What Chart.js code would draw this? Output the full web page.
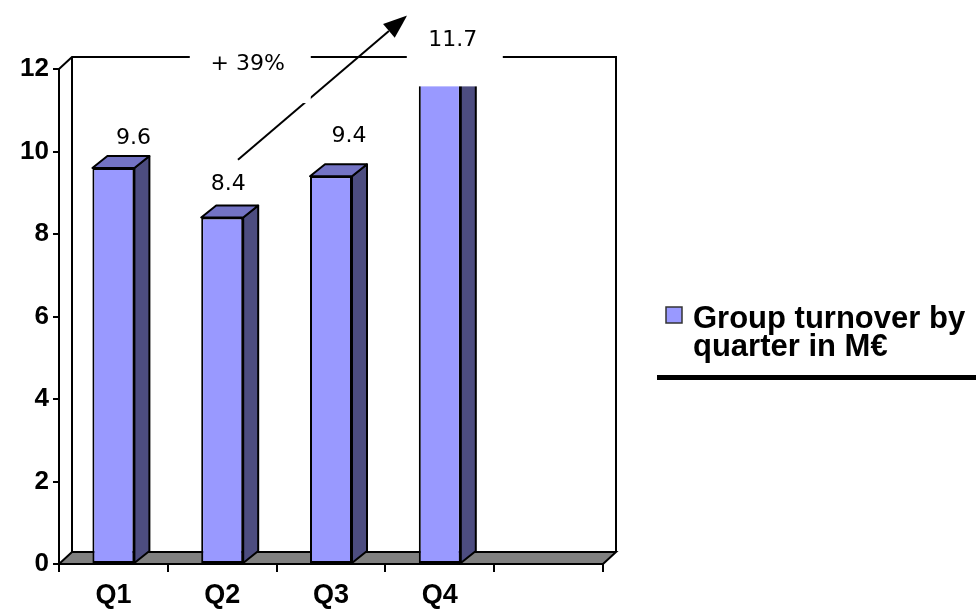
<!DOCTYPE html>
<html>
<head>
<meta charset="utf-8">
<title>Group turnover by quarter</title>
<script src="https://cdn.jsdelivr.net/npm/chart.js@4/dist/chart.umd.min.js"></script>
<style>
  html, body { margin: 0; padding: 0; background: #ffffff; }
  #wrap { width: 976px; height: 610px; position: relative; }
</style>
</head>
<body>
<div id="wrap"><canvas id="chart" width="976" height="610"></canvas></div>
<script>
// ---- data ----
const categories = ['Q1', 'Q2', 'Q3', 'Q4', ''];
const turnover = [9.6, 8.4, 9.4, 11.7, null];
const yTicks = [0, 2, 4, 6, 8, 10, 12];
const seriesName = 'Group turnover by quarter in M€';

// ---- styling ----
const FRONT = '#9999FF';
const SIDE = '#4D4D80';
const TOP = '#7373C4';
const FLOOR = '#808080';
const WALL_DX = 13, WALL_DY = 12;   // depth of the wall / floor box
const BAR_DX = 15, BAR_DY = 12;     // depth of each column
const AXIS_FAMILY = '"Liberation Sans", Arial, sans-serif';
const LABEL_FONT = '22px "DejaVu Sans", Verdana, sans-serif';
const LEGEND_FONT = 'bold 31px "Liberation Sans", Arial, sans-serif';
// where each value label sits relative to the top of its column
const labelNudge = [[20, -30], [6, -33], [18, -40], [13, -41]];

// growth from the weakest quarter to the last one
const growthPct = Math.round((turnover[3] / turnover[1] - 1) * 100);

// walls, floor and the side/top faces of each column
const box3d = {
  id: 'box3d',
  beforeDatasetsDraw(chart) {
    const { ctx, chartArea: a } = chart;
    const y0 = chart.scales.y.getPixelForValue(0);
    const yT = chart.scales.y.getPixelForValue(yTicks[yTicks.length - 1]);
    ctx.save();
    ctx.lineWidth = 2;
    ctx.strokeStyle = '#000';
    ctx.lineJoin = 'miter';
    ctx.beginPath();
    ctx.moveTo(a.left, yT);
    ctx.lineTo(a.left + WALL_DX, yT - WALL_DY);
    ctx.lineTo(a.right + WALL_DX, yT - WALL_DY);
    ctx.lineTo(a.right + WALL_DX, y0 - WALL_DY);
    ctx.moveTo(a.left + WALL_DX, yT - WALL_DY);
    ctx.lineTo(a.left + WALL_DX, y0 - WALL_DY);
    ctx.stroke();
    ctx.beginPath();
    ctx.moveTo(a.left, y0);
    ctx.lineTo(a.right, y0);
    ctx.lineTo(a.right + WALL_DX, y0 - WALL_DY);
    ctx.lineTo(a.left + WALL_DX, y0 - WALL_DY);
    ctx.closePath();
    ctx.fillStyle = FLOOR;
    ctx.fill();
    ctx.stroke();
    ctx.restore();
  },
  afterDatasetsDraw(chart) {
    const { ctx } = chart;
    const meta = chart.getDatasetMeta(0);
    ctx.save();
    ctx.lineWidth = 2;
    ctx.strokeStyle = '#000';
    ctx.lineJoin = 'round';
    meta.data.forEach((bar, i) => {
      if (turnover[i] == null) return;
      const { x, y, base, width } = bar.getProps(['x', 'y', 'base', 'width'], true);
      const l = x - width / 2, r = x + width / 2;
      ctx.beginPath();
      ctx.moveTo(r, y);
      ctx.lineTo(r + BAR_DX, y - BAR_DY);
      ctx.lineTo(r + BAR_DX, base - BAR_DY);
      ctx.lineTo(r, base);
      ctx.closePath();
      ctx.fillStyle = SIDE;
      ctx.fill();
      ctx.stroke();
      ctx.beginPath();
      ctx.moveTo(l, y);
      ctx.lineTo(r, y);
      ctx.lineTo(r + BAR_DX, y - BAR_DY);
      ctx.lineTo(l + BAR_DX, y - BAR_DY);
      ctx.closePath();
      ctx.fillStyle = TOP;
      ctx.fill();
      ctx.stroke();
    });
    ctx.restore();
  }
};

// growth arrow, value labels and the legend
const notes = {
  id: 'notes',
  afterDraw(chart) {
    const { ctx } = chart;
    const xs = chart.scales.x, ys = chart.scales.y;
    const P = (i, v) => [xs.getPixelForValue(i), ys.getPixelForValue(v)];
    ctx.save();

    // arrow
    const [ax, ay] = P(1.145, 9.8);
    const [bx, by] = P(2.70, 13.3);
    const ang = Math.atan2(by - ay, bx - ax);
    const headLen = 24, headHalf = 9;
    const hx = bx - headLen * Math.cos(ang), hy = by - headLen * Math.sin(ang);
    ctx.strokeStyle = '#000';
    ctx.fillStyle = '#000';
    ctx.lineWidth = 2;
    ctx.beginPath();
    ctx.moveTo(ax, ay);
    ctx.lineTo(hx, hy);
    ctx.stroke();
    ctx.beginPath();
    ctx.moveTo(bx, by);
    ctx.lineTo(hx + headHalf * Math.sin(ang), hy - headHalf * Math.cos(ang));
    ctx.lineTo(hx - headHalf * Math.sin(ang), hy + headHalf * Math.cos(ang));
    ctx.closePath();
    ctx.fill();

    ctx.font = LABEL_FONT;
    ctx.textAlign = 'center';
    ctx.textBaseline = 'middle';

    // growth note on a white card
    const [gx, gy] = P(1.235, 12.12);
    ctx.fillStyle = '#fff';
    ctx.fillRect(gx - 58, gy - 39, 121, 78);
    ctx.fillStyle = '#000';
    ctx.fillText('+ ' + growthPct + '%', gx, gy);

    // value labels; the last one sits on a white card
    const meta = chart.getDatasetMeta(0);
    meta.data.forEach((bar, i) => {
      if (turnover[i] == null) return;
      const lx = bar.x + labelNudge[i][0];
      const ly = bar.y + labelNudge[i][1];
      if (i === 3) {
        ctx.fillStyle = '#fff';
        ctx.fillRect(lx - 46, ly - 46, 96, 92);
      }
      ctx.fillStyle = '#000';
      ctx.fillText(turnover[i].toFixed(1), lx, ly);
    });

    // legend
    const lgX = 666, lgY = 307;
    ctx.fillStyle = FRONT;
    ctx.fillRect(lgX, lgY, 16, 16);
    ctx.lineWidth = 1.5;
    ctx.strokeStyle = '#333';
    ctx.strokeRect(lgX, lgY, 16, 16);
    ctx.font = LEGEND_FONT;
    ctx.textAlign = 'left';
    ctx.textBaseline = 'alphabetic';
    ctx.fillStyle = '#000';
    const maxW = chart.width - 693;
    const words = chart.data.datasets[0].label.split(' ');
    const lines = [];
    let cur = '';
    words.forEach(w => {
      const t = cur ? cur + ' ' + w : w;
      if (ctx.measureText(t).width > maxW && cur) { lines.push(cur); cur = w; }
      else cur = t;
    });
    lines.push(cur);
    lines.forEach((t, k) => ctx.fillText(t, 693, 328 + k * 28));
    ctx.fillRect(657, 375, chart.width - 657, 5);
    ctx.restore();
  }
};

new Chart(document.getElementById('chart'), {
  type: 'bar',
  data: {
    labels: categories,
    datasets: [{
      label: seriesName,
      data: turnover,
      backgroundColor: FRONT,
      borderColor: '#000',
      borderWidth: 2,
      borderSkipped: false,
      barPercentage: 0.386,
      categoryPercentage: 1
    }]
  },
  options: {
    responsive: false,
    animation: false,
    devicePixelRatio: 1,
    layout: { padding: { top: 69, right: 373, left: 0, bottom: 0 } },
    plugins: { legend: { display: false }, tooltip: { enabled: false } },
    scales: {
      x: {
        offset: true,
        afterFit(s) { s.height = 46; },
        border: { display: false },
        grid: { offset: true, drawOnChartArea: false, drawTicks: true, tickLength: 8, color: '#000', lineWidth: 2 },
        ticks: { color: '#000', font: { family: AXIS_FAMILY, size: 27, weight: 'bold' }, padding: 7, maxRotation: 0 }
      },
      y: {
        min: 0,
        max: 12,
        afterFit(s) { s.width = 59; },
        afterBuildTicks(s) { s.ticks = yTicks.map(v => ({ value: v })); },
        border: { display: true, color: '#000', width: 2 },
        grid: { drawOnChartArea: false, drawTicks: true, tickLength: 6, color: '#000', lineWidth: 2 },
        ticks: { color: '#000', font: { family: AXIS_FAMILY, size: 26, weight: 'bold' }, padding: 4 }
      }
    }
  },
  plugins: [box3d, notes]
});
</script>
</body>
</html>
